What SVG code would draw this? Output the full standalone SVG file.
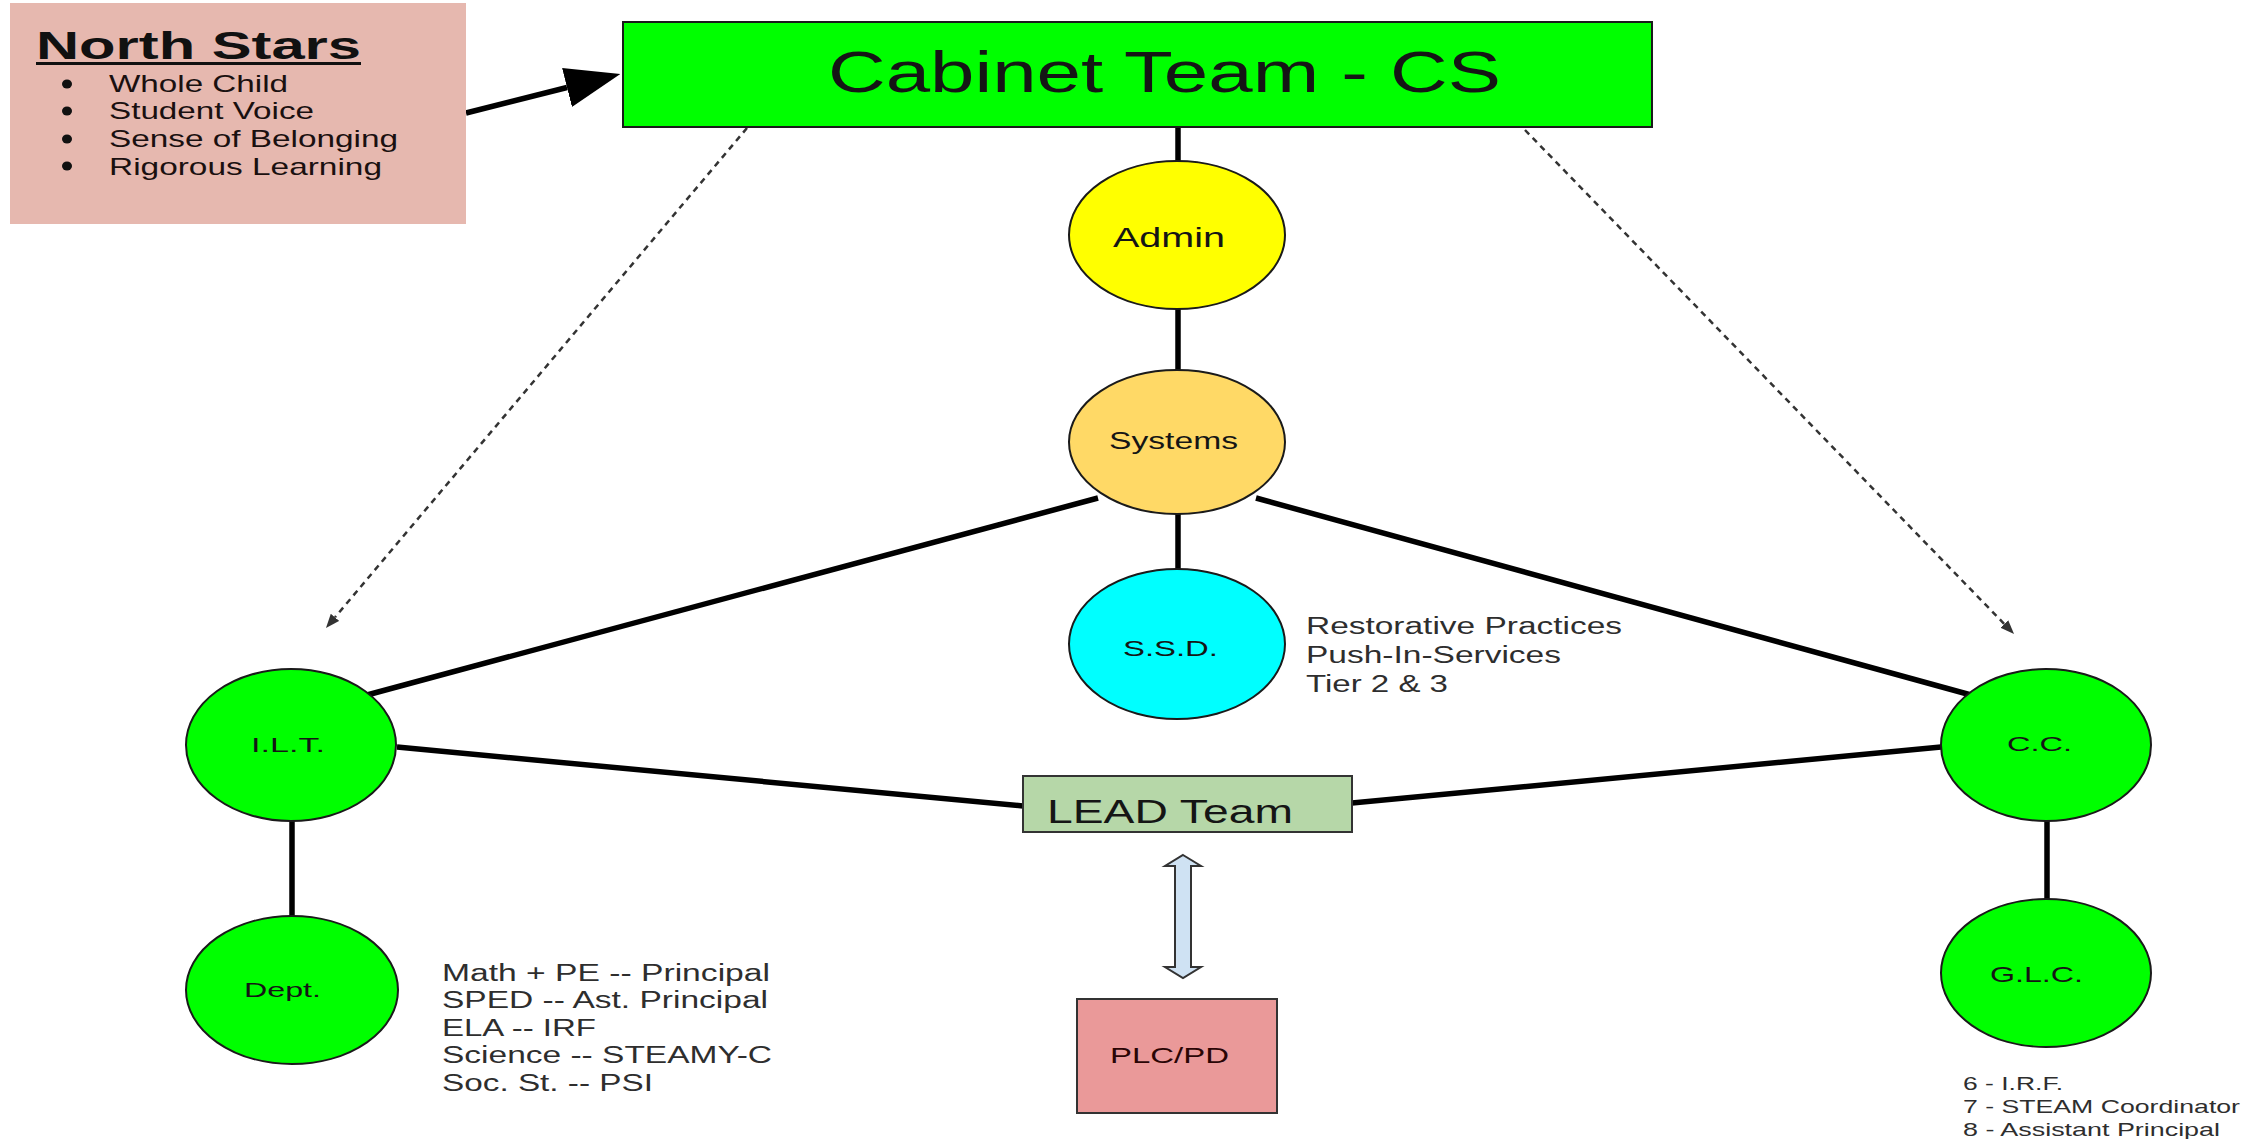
<svg xmlns="http://www.w3.org/2000/svg" width="2256" height="1139" viewBox="0 0 2256 1139">
<style>
text{font-family:"Liberation Sans",Arial,sans-serif;}
.lbl{fill:#151515;}
.note{fill:#2e2e2e;}
.node{stroke:#1a1a1a;stroke-width:2;}
.green{fill:#00ff00;}
.conn{stroke:#000;stroke-width:5.5;fill:none;}
.dash{stroke:#333;stroke-width:2.5;fill:none;stroke-dasharray:6 5;}
</style>
<defs>
<marker id="bigHead" viewBox="0 0 55 40" refX="0" refY="20" markerWidth="55" markerHeight="40" markerUnits="userSpaceOnUse" orient="auto">
<path d="M0,0 L55,20 L0,40 z" fill="#000"/>
</marker>
<marker id="smallHead" viewBox="0 0 14 11" refX="0" refY="5.5" markerWidth="14" markerHeight="11" markerUnits="userSpaceOnUse" orient="auto">
<path d="M0,0 L14,5.5 L0,11 z" fill="#333"/>
</marker>
</defs>
<rect width="2256" height="1139" fill="#fff"/>

<g id="connectors">
<line class="conn" x1="1178" y1="127" x2="1178" y2="161"/>
<line class="conn" x1="1178" y1="309" x2="1178" y2="371"/>
<line class="conn" x1="1178" y1="514" x2="1178" y2="570"/>
<line class="conn" x1="1098" y1="498" x2="367" y2="695"/>
<line class="conn" x1="1256" y1="498" x2="1971" y2="695"/>
<line class="conn" x1="397" y1="747" x2="1023" y2="806"/>
<line class="conn" x1="1352" y1="803" x2="1941" y2="747"/>
<line class="conn" x1="292" y1="820" x2="292" y2="916"/>
<line class="conn" x1="2047" y1="820" x2="2047" y2="899"/>
<line stroke="#000" stroke-width="5.5" x1="466" y1="113" x2="567" y2="87.5" marker-end="url(#bigHead)"/>
<line class="dash" x1="747" y1="128" x2="335" y2="617.3" marker-end="url(#smallHead)"/>
<line class="dash" x1="1525" y1="130" x2="2004.3" y2="624" marker-end="url(#smallHead)"/>
<polygon points="1183,855 1201,866 1191,866 1191,967 1201,967 1183,978 1165,967 1175,967 1175,866 1165,866" fill="#cfe2f3" stroke="#333" stroke-width="2"/>
</g>

<g id="north-stars">
<rect x="10" y="3" width="456" height="221" fill="#e6b8af"/>
<text x="36" y="59" font-size="38" font-weight="bold" fill="#111" textLength="325" lengthAdjust="spacingAndGlyphs">North Stars</text>
<line x1="36" y1="63.5" x2="361" y2="63.5" stroke="#111" stroke-width="3"/>
<g fill="#111">
<ellipse cx="67" cy="84" rx="5" ry="4.5"/>
<ellipse cx="67" cy="111" rx="5" ry="4.5"/>
<ellipse cx="67" cy="139" rx="5" ry="4.5"/>
<ellipse cx="67" cy="166" rx="5" ry="4.5"/>
</g>
<text x="109" y="92" font-size="24" fill="#1a1010" textLength="179" lengthAdjust="spacingAndGlyphs">Whole Child</text>
<text x="109" y="119" font-size="24" fill="#1a1010" textLength="205" lengthAdjust="spacingAndGlyphs">Student Voice</text>
<text x="109" y="147" font-size="24" fill="#1a1010" textLength="289" lengthAdjust="spacingAndGlyphs">Sense of Belonging</text>
<text x="109" y="175" font-size="24" fill="#1a1010" textLength="273" lengthAdjust="spacingAndGlyphs">Rigorous Learning</text>
</g>

<g id="cabinet">
<rect class="node" x="623" y="22" width="1029" height="105" fill="#00ff00"/>
<text class="lbl" x="828" y="92" font-size="57" textLength="673" lengthAdjust="spacingAndGlyphs">Cabinet Team - CS</text>
</g>

<g id="admin">
<ellipse class="node" cx="1177" cy="235" rx="108" ry="74" fill="#ffff00"/>
<text class="lbl" x="1113" y="247" font-size="27" textLength="112" lengthAdjust="spacingAndGlyphs">Admin</text>
</g>

<g id="systems">
<ellipse class="node" cx="1177" cy="442" rx="108" ry="72" fill="#ffd966"/>
<text class="lbl" x="1109" y="449" font-size="23" textLength="129" lengthAdjust="spacingAndGlyphs">Systems</text>
</g>

<g id="ssd">
<ellipse class="node" cx="1177" cy="644" rx="108" ry="75" fill="#00ffff"/>
<text class="lbl" x="1123" y="656" font-size="22" textLength="95" lengthAdjust="spacingAndGlyphs">S.S.D.</text>
<text class="note" x="1306" y="634" font-size="23" textLength="316" lengthAdjust="spacingAndGlyphs">Restorative Practices</text>
<text class="note" x="1306" y="663" font-size="23" textLength="255" lengthAdjust="spacingAndGlyphs">Push-In-Services</text>
<text class="note" x="1306" y="692" font-size="23" textLength="142" lengthAdjust="spacingAndGlyphs">Tier 2 &amp; 3</text>
</g>

<g id="ilt">
<ellipse class="node green" cx="291" cy="745" rx="105" ry="76"/>
<text class="lbl" x="251" y="752" font-size="21" textLength="74" lengthAdjust="spacingAndGlyphs">I.L.T.</text>
</g>

<g id="cc">
<ellipse class="node green" cx="2046" cy="745" rx="105" ry="76"/>
<text class="lbl" x="2007" y="751" font-size="21" textLength="65" lengthAdjust="spacingAndGlyphs">C.C.</text>
</g>

<g id="lead">
<rect x="1023" y="776" width="329" height="56" fill="#b6d7a8" stroke="#333" stroke-width="2"/>
<text class="lbl" x="1047" y="823" font-size="33" textLength="246" lengthAdjust="spacingAndGlyphs">LEAD Team</text>
</g>

<g id="dept">
<ellipse class="node green" cx="292" cy="990" rx="106" ry="74"/>
<text class="lbl" x="244" y="997" font-size="21" textLength="77" lengthAdjust="spacingAndGlyphs">Dept.</text>
<text class="note" x="442" y="981" font-size="23" textLength="328" lengthAdjust="spacingAndGlyphs">Math + PE -- Principal</text>
<text class="note" x="442" y="1008" font-size="23" textLength="326" lengthAdjust="spacingAndGlyphs">SPED -- Ast. Principal</text>
<text class="note" x="442" y="1036" font-size="23" textLength="154" lengthAdjust="spacingAndGlyphs">ELA -- IRF</text>
<text class="note" x="442" y="1063" font-size="23" textLength="330" lengthAdjust="spacingAndGlyphs">Science -- STEAMY-C</text>
<text class="note" x="442" y="1091" font-size="23" textLength="211" lengthAdjust="spacingAndGlyphs">Soc. St. -- PSI</text>
</g>

<g id="glc">
<ellipse class="node green" cx="2046" cy="973" rx="105" ry="74"/>
<text class="lbl" x="1990" y="982" font-size="22" textLength="93" lengthAdjust="spacingAndGlyphs">G.L.C.</text>
<text class="note" x="1963" y="1090" font-size="19" textLength="100" lengthAdjust="spacingAndGlyphs">6 - I.R.F.</text>
<text class="note" x="1963" y="1113" font-size="19" textLength="277" lengthAdjust="spacingAndGlyphs">7 - STEAM Coordinator</text>
<text class="note" x="1963" y="1136" font-size="19" textLength="257" lengthAdjust="spacingAndGlyphs">8 - Assistant Principal</text>
</g>

<g id="plc-pd">
<rect x="1077" y="999" width="200" height="114" fill="#ea9999" stroke="#333" stroke-width="2"/>
<text x="1110" y="1063" font-size="22" fill="#2a0505" textLength="119" lengthAdjust="spacingAndGlyphs">PLC/PD</text>
</g>
</svg>
